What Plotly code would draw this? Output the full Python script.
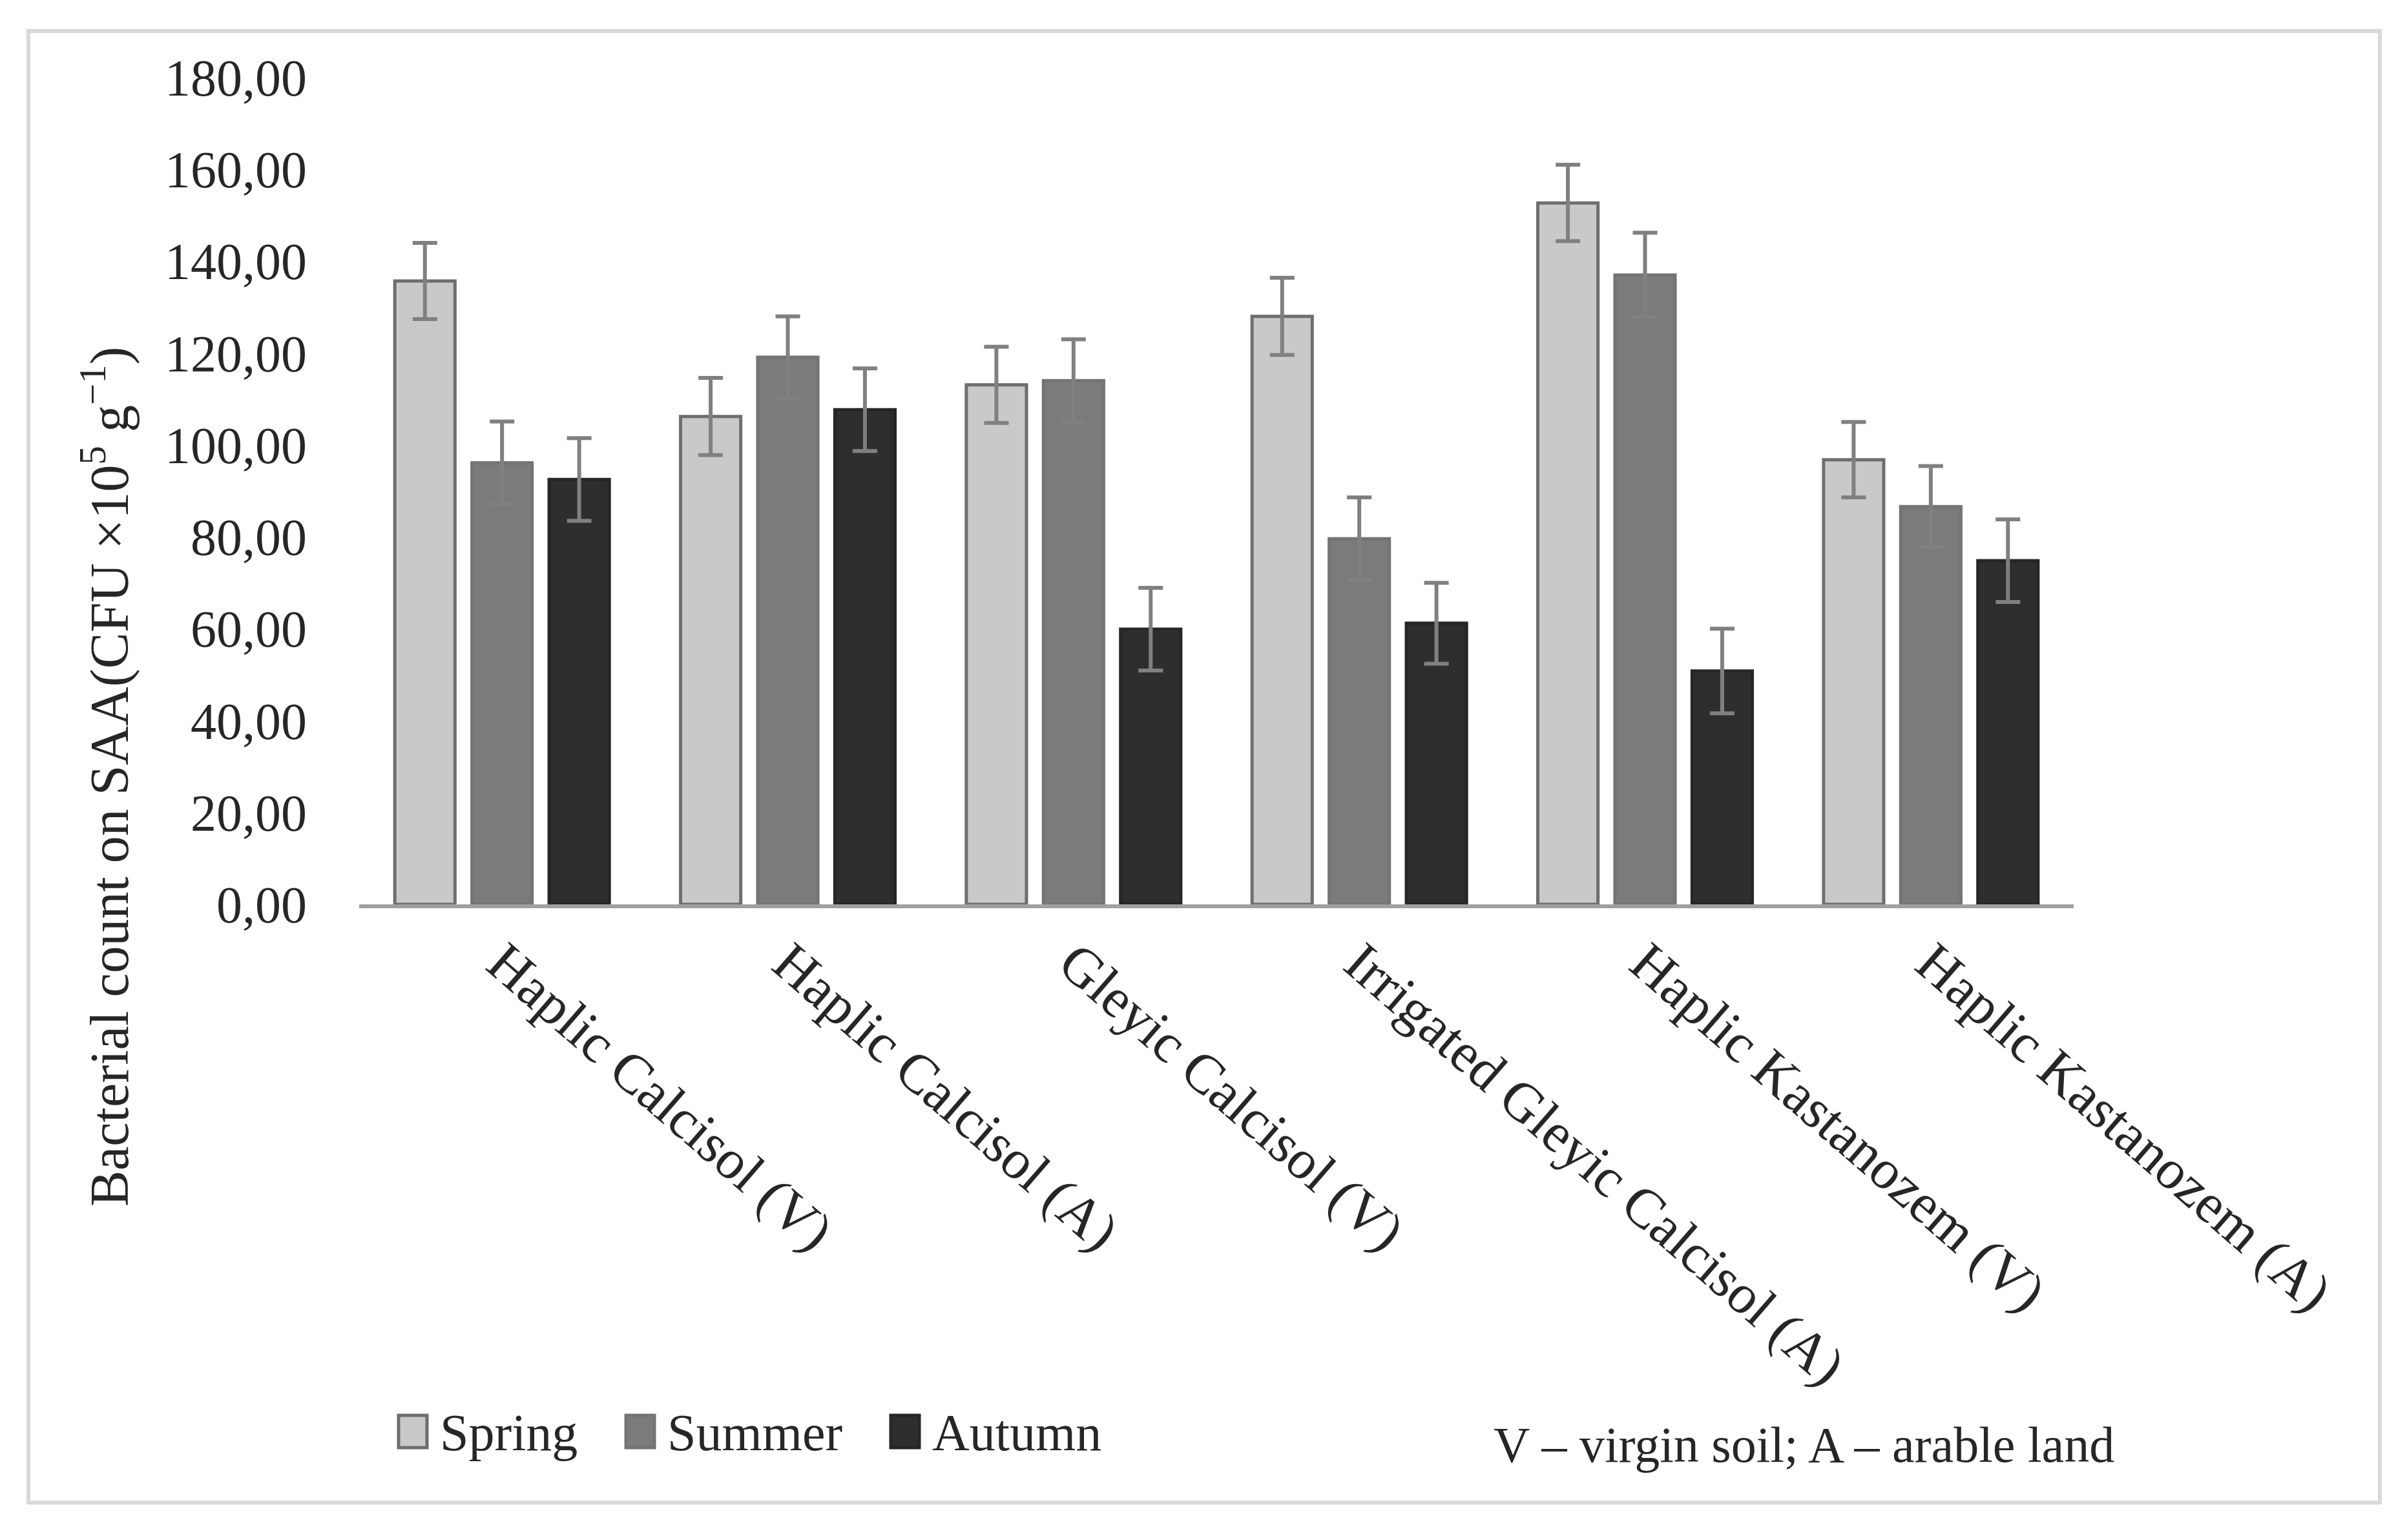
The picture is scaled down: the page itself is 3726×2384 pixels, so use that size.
import plotly.graph_objects as go

# ---------------- data ----------------
categories = [
    "Haplic Calcisol (V)",
    "Haplic Calcisol (A)",
    "Gleyic Calcisol (V)",
    "Irrigated Gleyic Calcisol (A)",
    "Haplic Kastanozem (V)",
    "Haplic Kastanozem (A)",
]
series_names = ["Spring", "Summer", "Autumn"]
spring = [135.7, 106.2, 113.1, 128.0, 152.7, 96.8]
summer = [96.1, 119.1, 114.0, 79.6, 137.0, 86.6]
autumn = [92.5, 107.7, 59.9, 61.2, 50.8, 74.8]
spring_err = [8.3, 8.4, 8.3, 8.4, 8.3, 8.2]
summer_err = [9.0, 8.9, 9.0, 9.0, 9.2, 8.8]
autumn_err = [9.0, 9.0, 9.0, 8.8, 9.2, 9.0]
y_ticks = [0, 20, 40, 60, 80, 100, 120, 140, 160, 180]
y_title = "Bacterial count on SAA(CFU ×10<sup>5</sup> g<sup>−1</sup>)"
note_text = "V – virgin soil; A – arable land"

# ---------------- layout geometry ----------------
W, H = 3726, 2384
L, R, T, B = 556, 3210, 120, 1400   # plot area in pixels


def xp(px):
    return (px - L) / (R - L)


def yp(py):
    return (B - py) / (B - T)


FONT = "Liberation Serif"
TXT = "#262626"
fills = ["#c9c9c9", "#7b7b7b", "#2e2e2e"]
edges = ["#6e6e6e", "#747474", "#262626"]

values = [spring, summer, autumn]
errs = [spring_err, summer_err, autumn_err]

fig = go.Figure()
for name, vals, err, fc, ec in zip(series_names, values, errs, fills, edges):
    fig.add_trace(go.Bar(
        name=name,
        x=categories,
        y=vals,
        marker=dict(color=fc, line=dict(color=ec, width=5)),
        error_y=dict(type="data", array=err, visible=True,
                     color="#808080", thickness=6, width=19),
        showlegend=False,
    ))

shapes = []
annotations = []

# outer border
shapes.append(dict(type="rect", xref="paper", yref="paper",
                   x0=xp(44), x1=xp(3684), y0=yp(48), y1=yp(2326),
                   line=dict(color="#d9d9d9", width=6), fillcolor="rgba(0,0,0,0)",
                   layer="below"))

# manual legend
leg_sym_x = [617, 969, 1379]
for name, sx, fc, ec in zip(series_names, leg_sym_x, fills, edges):
    shapes.append(dict(type="rect", xref="paper", yref="paper",
                       x0=xp(sx), x1=xp(sx + 44), y0=yp(2191), y1=yp(2241),
                       fillcolor=fc, line=dict(color=ec, width=5)))
    annotations.append(dict(text=name, xref="paper", yref="paper",
                            x=xp(sx + 62), y=yp(2218), xanchor="left", yanchor="middle",
                            showarrow=False, font=dict(family=FONT, size=80, color=TXT)))

# note
annotations.append(dict(text=note_text, xref="paper", yref="paper",
                        x=xp(2310), y=yp(2236), xanchor="left", yanchor="middle",
                        showarrow=False, font=dict(family=FONT, size=78, color=TXT)))

# y-axis title
annotations.append(dict(text=y_title, xref="paper", yref="paper",
                        x=xp(164), y=yp(1202), xanchor="center", yanchor="middle",
                        textangle=-90, showarrow=False,
                        font=dict(family=FONT, size=84, color=TXT)))

fig.update_layout(
    width=W, height=H,
    margin=dict(l=L, r=W - R, t=T, b=H - B, pad=0),
    paper_bgcolor="white", plot_bgcolor="white",
    barmode="group", bargap=0.19, bargroupgap=0.22,
    separators=",.",
    showlegend=False,
    shapes=shapes,
    annotations=annotations,
    font=dict(family=FONT, color=TXT),
)
fig.update_xaxes(
    showline=True, linecolor="#a0a0a0", linewidth=6,
    ticks="", showgrid=False, zeroline=False,
    tickangle=41, tickfont=dict(family=FONT, size=86, color=TXT),
    automargin=False,
)
fig.update_yaxes(
    range=[0, 180], tickvals=y_ticks, tickformat=".2f",
    showline=False, showgrid=False, zeroline=False, ticks="",
    tickfont=dict(family=FONT, size=80, color=TXT),
    ticklabelstandoff=80, automargin=False,
)

fig.write_html("out.html")
